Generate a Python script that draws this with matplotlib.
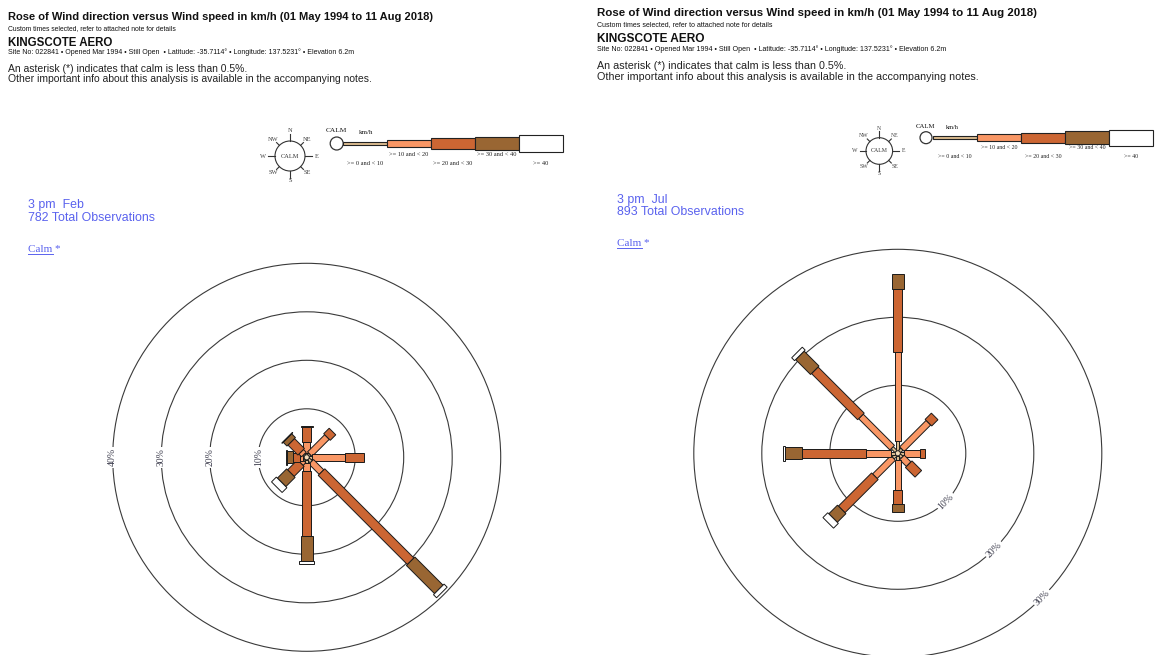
import numpy as np
import matplotlib.pyplot as plt
from matplotlib.patches import Polygon, Circle, Rectangle

plt.rcParams['font.family'] = ['Liberation Sans', 'DejaVu Sans']

FIG_W, FIG_H = 1155, 655
SERIF = 'Liberation Serif'
BLUE = '#5a62ee'

directions = ["N", "NE", "E", "SE", "S", "SW", "W", "NW"]
dir_angles = [0, 45, 90, 135, 180, 225, 270, 315]
speed_labels = [">= 0 and < 10", ">= 10 and < 20", ">= 20 and < 30", ">= 30 and < 40", ">= 40"]
speed_colors = ["#dcbc90", "#f99765", "#cc6633", "#996633", "#ffffff"]
bar_px = [3, 6.5, 9.3, 12, 15]   # bar thickness per speed class, pixels

# 3 pm February, % of observations by direction (N..NW) and speed class
feb_0_10 = [0.4, 0.4, 0.5, 0.8, 0.7, 0.4, 0.3, 0.3]
feb_10_20 = [2.3, 5.0, 6.9, 3.0, 1.6, 0.8, 0.6, 0.8]
feb_20_30 = [3.1, 1.6, 3.8, 26.0, 13.5, 2.9, 1.5, 2.9]
feb_30_40 = [0.2, 0.0, 0.0, 8.2, 5.0, 2.7, 1.2, 1.1]
feb_40 = [0.0, 0.0, 0.0, 0.9, 0.7, 1.4, 0.2, 0.1]

# 3 pm July
jul_0_10 = [1.5, 0.5, 0.5, 0.5, 0.6, 0.6, 0.6, 0.8]
jul_10_20 = [13.0, 5.5, 2.4, 1.4, 4.5, 3.8, 3.7, 6.5]
jul_20_30 = [9.3, 1.3, 0.7, 2.0, 2.0, 6.9, 9.4, 9.6]
jul_30_40 = [2.2, 0.0, 0.0, 0.0, 1.1, 1.8, 2.5, 3.1]
jul_40 = [0.0, 0.0, 0.0, 0.0, 0.0, 1.0, 0.3, 0.6]

TITLE = "Rose of Wind direction versus Wind speed in km/h (01 May 1994 to 11 Aug 2018)"
SUBTITLE = "Custom times selected, refer to attached note for details"
STATION = "KINGSCOTE AERO"
SITE = ("Site No: 022841 \u2022 Opened Mar 1994 \u2022 Still Open  \u2022 Latitude: -35.7114\u00b0 "
        "\u2022 Longitude: 137.5231\u00b0 \u2022 Elevation 6.2m")
NOTE1 = "An asterisk (*) indicates that calm is less than 0.5%."
NOTE2 = "Other important info about this analysis is available in the accompanying notes."

fig = plt.figure(figsize=(FIG_W / 100, FIG_H / 100), dpi=100)
ov = fig.add_axes([0, 0, 1, 1])
ov.set_xlim(0, FIG_W)
ov.set_ylim(FIG_H, 0)
ov.axis('off')


def draw_header(x, y, s):
    ov.text(x, y, TITLE, fontsize=8.0 * s, fontweight='bold', color='#111111')
    ov.text(x, y + 10.5 * s, SUBTITLE, fontsize=4.9 * s, color='#111111')
    ov.text(x, y + 25.5 * s, STATION, fontsize=8.3 * s, fontweight='bold', color='#111111')
    ov.text(x, y + 34.3 * s, SITE, fontsize=5.0 * s, color='#111111')
    ov.text(x, y + 52.3 * s, NOTE1, fontsize=7.5 * s, color='#222222')
    ov.text(x, y + 62.3 * s, NOTE2, fontsize=7.5 * s, color='#222222')


def draw_legend(cx, cy, r, calm_x, bar_y, x0, seg, s):
    # little compass
    ov.add_patch(Circle((cx, cy), r, fill=False, ec='#333333', lw=0.8))
    ov.text(cx, cy, "CALM", ha='center', va='center', family=SERIF, fontsize=4.6 * s, color='#333333')
    for ang, lab in zip(dir_angles, directions):
        a = np.radians(ang)
        ux, uy = np.sin(a), -np.cos(a)
        tick = 7 if ang % 90 == 0 else 4
        ov.plot([cx + ux * r, cx + ux * (r + tick * s)], [cy + uy * r, cy + uy * (r + tick * s)],
                color='#333333', lw=0.8)
        rl = r + (10 if ang % 180 == 0 else 12 if ang % 90 == 0 else 9) * s
        ov.text(cx + ux * rl, cy + uy * rl, lab, ha='center', va='center', family=SERIF,
                fontsize=4.6 * s, color='#444444')
    # speed classes
    ov.add_patch(Circle((calm_x, bar_y), 6.5 * s, fc='white', ec='#333333', lw=0.9))
    ov.text(calm_x, bar_y - 11 * s, "CALM", ha='center', va='baseline', family=SERIF,
            fontsize=5.3 * s, color='#111111')
    ov.text(calm_x + 22 * s, bar_y - 9 * s, "km/h", ha='left', va='baseline', family=SERIF,
            fontsize=5.0 * s, color='#111111')
    for i, (lab, col) in enumerate(zip(speed_labels, speed_colors)):
        h = bar_px[i] * 1.08
        ov.add_patch(Rectangle((x0 + i * seg, bar_y - h / 2), seg, h, fc=col, ec='#222222', lw=0.8))
        ly = bar_y + (11 if i % 2 else 20) * s
        ov.text(x0 + (i + 0.5) * seg, ly, lab, ha='center', va='center', family=SERIF,
                fontsize=4.6 * s, color='#222222')


def draw_panel_text(x, y, when, n_obs):
    ov.text(x, y, when, fontsize=8.9, color=BLUE)
    ov.text(x, y + 12.4, f"{n_obs} Total Observations", fontsize=8.9, color=BLUE)
    ov.text(x, y + 43.4, "Calm *", family=SERIF, fontsize=8.0, color=BLUE)
    ov.plot([x, x + 25], [y + 45.2, y + 45.2], color=BLUE, lw=0.7)


def draw_rose(cx, cy, px_per_pct, rings, label_ang, label_rot, classes):
    half = 240
    ext = half / px_per_pct
    ax = fig.add_axes([(cx - half) / FIG_W, (FIG_H - cy - half) / FIG_H,
                       2 * half / FIG_W, 2 * half / FIG_H])
    ax.set_xlim(-ext, ext)
    ax.set_ylim(-ext, ext)
    ax.axis('off')
    la = np.radians(label_ang)
    for ring in rings:
        ax.add_patch(Circle((0, 0), ring, fill=False, ec='#3a3a3a', lw=0.8, clip_on=False))
        ax.text(ring * np.sin(la), ring * np.cos(la), f"{ring}%", rotation=label_rot,
                rotation_mode='anchor', ha='center', va='center', family=SERIF, fontsize=7,
                color='#404050', clip_on=False,
                bbox=dict(fc='white', ec='none', pad=1.2))
    calm_r = 2.5 / px_per_pct
    for k, ang in enumerate(dir_angles):
        a = np.radians(ang)
        u = np.array([np.sin(a), np.cos(a)])
        n = np.array([np.cos(a), -np.sin(a)])
        r0 = calm_r
        for c, vals in enumerate(classes):
            v = vals[k]
            if v <= 0:
                continue
            r1 = r0 + v
            hw = bar_px[c] / 2 / px_per_pct
            pts = [r0 * u + hw * n, r1 * u + hw * n, r1 * u - hw * n, r0 * u - hw * n]
            ax.add_patch(Polygon(pts, closed=True, fc=speed_colors[c], ec='#1a1a1a',
                                 lw=0.7, clip_on=False))
            r0 = r1
    ax.add_patch(Circle((0, 0), calm_r, fc='#f3dcb8', ec='#222222', lw=0.6, clip_on=False))


draw_header(8, 20, 1.0)
draw_header(597, 15.5, 1.03)

draw_legend(290, 156, 15, 336.7, 143.5, 343, 44, 1.0)
draw_legend(879.3, 151, 13.3, 926, 137.7, 933.3, 44.0, 0.92)

draw_panel_text(28.3, 208.3, "3 pm  Feb", 782)
draw_panel_text(617, 203, "3 pm  Jul", 893)

draw_rose(306.7, 457.3, 4.85, [10, 20, 30, 40], 270, 90,
          [feb_0_10, feb_10_20, feb_20_30, feb_30_40, feb_40])
draw_rose(897.8, 453.3, 6.8, [10, 20, 30], 135, 45,
          [jul_0_10, jul_10_20, jul_20_30, jul_30_40, jul_40])

fig.savefig("out.png", dpi=100, facecolor='white')
